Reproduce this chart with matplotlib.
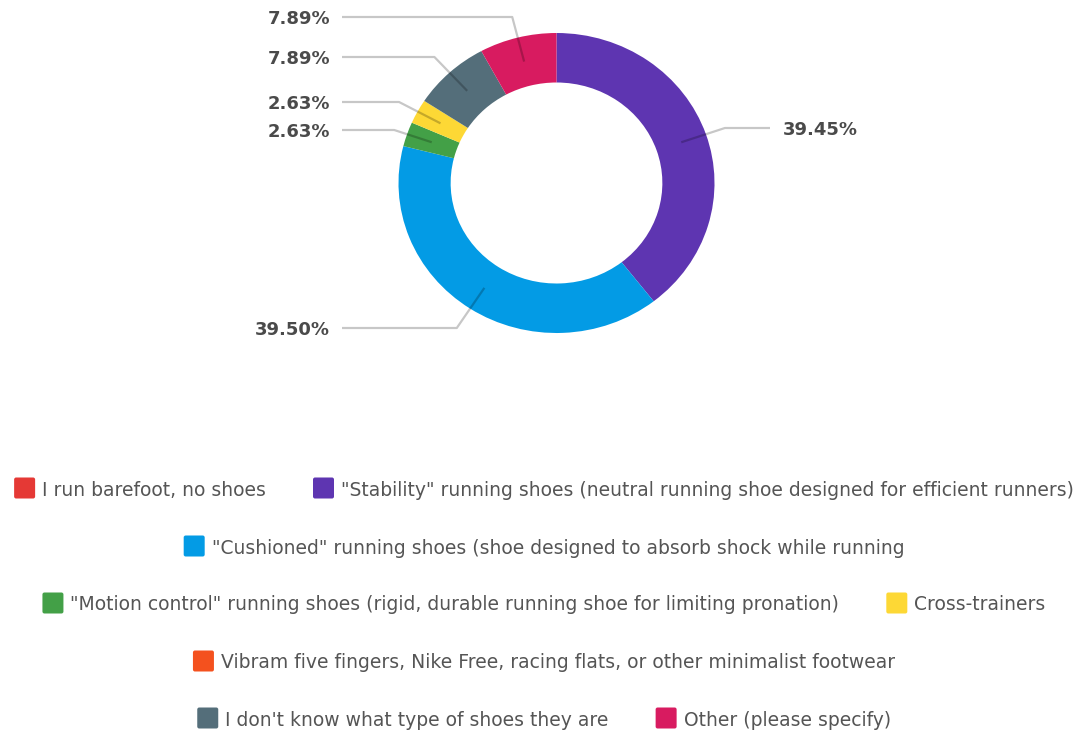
import numpy as np
import matplotlib.pyplot as plt
from matplotlib.patches import FancyBboxPatch

W, H = 1082, 733

categories = [
    "I run barefoot, no shoes",
    "\"Stability\" running shoes (neutral running shoe designed for efficient runners)",
    "\"Cushioned\" running shoes (shoe designed to absorb shock while running",
    "\"Motion control\" running shoes (rigid, durable running shoe for limiting pronation)",
    "Cross-trainers",
    "Vibram five fingers, Nike Free, racing flats, or other minimalist footwear",
    "I don't know what type of shoes they are",
    "Other (please specify)",
]
shares = [0.0, 39.45, 39.50, 2.63, 2.63, 0.0, 7.89, 7.89]
colors = ["#E53935", "#5E35B1", "#039BE5", "#43A047",
          "#FDD835", "#F4511E", "#546E7A", "#D81B60"]

# legend rows (indices into categories), as wrapped in the original
legend_rows = [[0, 1], [2], [3, 4], [5], [6, 7]]
legend_row_y = [488, 546, 603, 661, 718]

# outside label placement: category -> (side, y of the leader's flat part)
label_slots = {1: ("right", 128), 2: ("left", 328), 3: ("left", 130),
               4: ("left", 102), 6: ("left", 57), 7: ("left", 17)}

TEXT = "#4a4a4a"
FONT = "DejaVu Sans"

fig = plt.figure(figsize=(W / 100, H / 100), dpi=100)

# donut (slightly wider than tall, like the source)
cx, cy, rx, ry = 556.5, 183, 158, 150
ax = fig.add_axes([(cx - rx) / W, (H - cy - ry) / H, 2 * rx / W, 2 * ry / H])
idx = [i for i, v in enumerate(shares) if v > 0]
wedges, _ = ax.pie([shares[i] for i in idx], colors=[colors[i] for i in idx],
                   startangle=90, counterclock=False, radius=1,
                   wedgeprops=dict(width=0.33, linewidth=0))
ax.set_aspect("auto")
ax.set_xlim(-1, 1)
ax.set_ylim(-1, 1)
ax.axis("off")

ov = fig.add_axes([0, 0, 1, 1])
ov.set_xlim(0, W)
ov.set_ylim(H, 0)
ov.axis("off")
ov.patch.set_alpha(0)


def to_px(x, y):
    dx, dy = ax.transData.transform((x, y))
    return dx, H - dy


for w, i in zip(wedges, idx):
    side, ly = label_slots[i]
    ang = np.deg2rad((w.theta1 + w.theta2) / 2)
    sx, sy = to_px(0.835 * np.cos(ang), 0.835 * np.sin(ang))
    # run outward along the radius until the label's row, then flat
    ex = sx + (ly - sy) * (sx - cx) / (sy - cy)
    if side == "left":
        tx = 342
        ov.plot([sx, ex, tx], [sy, ly, ly], color="black", alpha=0.22, lw=1.6,
                solid_capstyle="butt")
        ov.text(330, ly + 7, f"{shares[i]:.2f}%", ha="right", va="baseline",
                fontsize=13, fontweight="bold", color=TEXT, family=FONT)
    else:
        tx = 770
        ov.plot([sx, ex, tx], [sy, ly, ly], color="black", alpha=0.22, lw=1.6,
                solid_capstyle="butt")
        ov.text(783, ly + 7, f"{shares[i]:.2f}%", ha="left", va="baseline",
                fontsize=13, fontweight="bold", color=TEXT, family=FONT)

# legend, centred rows of swatch + label
fig.canvas.draw()
r = fig.canvas.get_renderer()
SW, GAP, ITEM_GAP, MID = 21, 7, 47, 544
for row, y in zip(legend_rows, legend_row_y):
    texts = [ov.text(0, y, categories[i], ha="left", va="center_baseline",
                     fontsize=13.5, color="#555555", family=FONT) for i in row]
    widths = [t.get_window_extent(r).width for t in texts]
    total = sum(SW + GAP + w for w in widths) + ITEM_GAP * (len(row) - 1)
    x = MID - total / 2
    for i, t, w in zip(row, texts, widths):
        ov.add_patch(FancyBboxPatch((x + 2, y - SW / 2 + 2), SW - 4, SW - 4,
                                    boxstyle="round,pad=2", fc=colors[i], ec="none"))
        t.set_x(x + SW + GAP)
        x += SW + GAP + w + ITEM_GAP

fig.savefig("out.png", dpi=100, facecolor="white")
